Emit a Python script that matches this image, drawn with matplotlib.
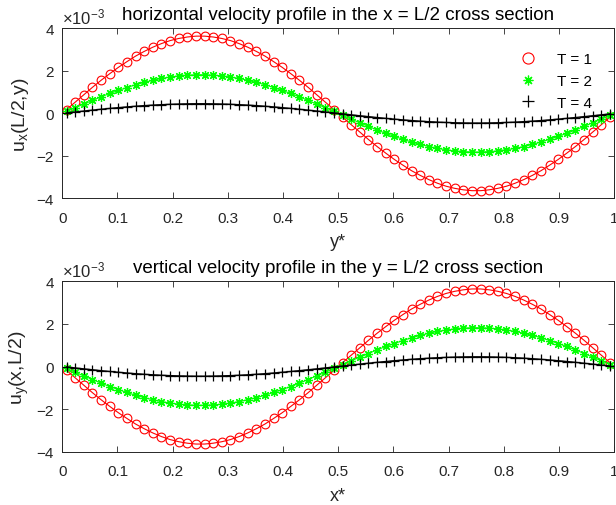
import matplotlib
matplotlib.use("Agg")
import matplotlib.pyplot as plt
from matplotlib.lines import Line2D

plt.rcParams['font.family'] = ['Liberation Sans', 'DejaVu Sans']
plt.rcParams['mathtext.default'] = 'regular'

# grid positions (cell centres)
pos = [0.0078, 0.0234, 0.0391, 0.0547, 0.0703, 0.0859, 0.1016, 0.1172,
       0.1328, 0.1484, 0.1641, 0.1797, 0.1953, 0.2109, 0.2266, 0.2422,
       0.2578, 0.2734, 0.2891, 0.3047, 0.3203, 0.3359, 0.3516, 0.3672,
       0.3828, 0.3984, 0.4141, 0.4297, 0.4453, 0.4609, 0.4766, 0.4922,
       0.5078, 0.5234, 0.5391, 0.5547, 0.5703, 0.5859, 0.6016, 0.6172,
       0.6328, 0.6484, 0.6641, 0.6797, 0.6953, 0.7109, 0.7266, 0.7422,
       0.7578, 0.7734, 0.7891, 0.8047, 0.8203, 0.8359, 0.8516, 0.8672,
       0.8828, 0.8984, 0.9141, 0.9297, 0.9453, 0.9609, 0.9766, 0.9922]

# horizontal velocity u_x(L/2, y)  (units of 1e-3)
ux_T1 = [0.18, 0.53, 0.88, 1.23, 1.56, 1.87, 2.17, 2.44, 2.70, 2.92, 3.12, 3.29, 3.43, 3.53, 3.60, 3.64,
         3.64, 3.60, 3.53, 3.43, 3.29, 3.12, 2.92, 2.70, 2.44, 2.17, 1.87, 1.56, 1.23, 0.88, 0.53, 0.18,
         -0.18, -0.53, -0.88, -1.23, -1.56, -1.87, -2.17, -2.44, -2.70, -2.92, -3.12, -3.29, -3.43, -3.53, -3.60, -3.64,
         -3.64, -3.60, -3.53, -3.43, -3.29, -3.12, -2.92, -2.70, -2.44, -2.17, -1.87, -1.56, -1.23, -0.88, -0.53, -0.18]
ux_T2 = [0.09, 0.27, 0.44, 0.61, 0.78, 0.94, 1.08, 1.22, 1.35, 1.46, 1.56, 1.65, 1.71, 1.77, 1.80, 1.82,
         1.82, 1.80, 1.77, 1.71, 1.65, 1.56, 1.46, 1.35, 1.22, 1.08, 0.94, 0.78, 0.61, 0.44, 0.27, 0.09,
         -0.09, -0.27, -0.44, -0.61, -0.78, -0.94, -1.08, -1.22, -1.35, -1.46, -1.56, -1.65, -1.71, -1.77, -1.80, -1.82,
         -1.82, -1.80, -1.77, -1.71, -1.65, -1.56, -1.46, -1.35, -1.22, -1.08, -0.94, -0.78, -0.61, -0.44, -0.27, -0.09]
ux_T4 = [0.022, 0.067, 0.111, 0.153, 0.195, 0.234, 0.271, 0.306, 0.337, 0.366, 0.390, 0.411, 0.428, 0.441, 0.450, 0.455,
         0.455, 0.450, 0.441, 0.428, 0.411, 0.390, 0.366, 0.337, 0.306, 0.271, 0.234, 0.195, 0.153, 0.111, 0.067, 0.022,
         -0.022, -0.067, -0.111, -0.153, -0.195, -0.234, -0.271, -0.306, -0.337, -0.366, -0.390, -0.411, -0.428, -0.441, -0.450, -0.455,
         -0.455, -0.450, -0.441, -0.428, -0.411, -0.390, -0.366, -0.337, -0.306, -0.271, -0.234, -0.195, -0.153, -0.111, -0.067, -0.022]

# vertical velocity u_y(x, L/2)  (units of 1e-3)
uy_T1 = [-0.18, -0.53, -0.88, -1.23, -1.56, -1.87, -2.17, -2.44, -2.70, -2.92, -3.12, -3.29, -3.43, -3.53, -3.60, -3.64,
         -3.64, -3.60, -3.53, -3.43, -3.29, -3.12, -2.92, -2.70, -2.44, -2.17, -1.87, -1.56, -1.23, -0.88, -0.53, -0.18,
         0.18, 0.53, 0.88, 1.23, 1.56, 1.87, 2.17, 2.44, 2.70, 2.92, 3.12, 3.29, 3.43, 3.53, 3.60, 3.64,
         3.64, 3.60, 3.53, 3.43, 3.29, 3.12, 2.92, 2.70, 2.44, 2.17, 1.87, 1.56, 1.23, 0.88, 0.53, 0.18]
uy_T2 = [-0.09, -0.27, -0.44, -0.61, -0.78, -0.94, -1.08, -1.22, -1.35, -1.46, -1.56, -1.65, -1.71, -1.77, -1.80, -1.82,
         -1.82, -1.80, -1.77, -1.71, -1.65, -1.56, -1.46, -1.35, -1.22, -1.08, -0.94, -0.78, -0.61, -0.44, -0.27, -0.09,
         0.09, 0.27, 0.44, 0.61, 0.78, 0.94, 1.08, 1.22, 1.35, 1.46, 1.56, 1.65, 1.71, 1.77, 1.80, 1.82,
         1.82, 1.80, 1.77, 1.71, 1.65, 1.56, 1.46, 1.35, 1.22, 1.08, 0.94, 0.78, 0.61, 0.44, 0.27, 0.09]
uy_T4 = [-0.022, -0.067, -0.111, -0.153, -0.195, -0.234, -0.271, -0.306, -0.337, -0.366, -0.390, -0.411, -0.428, -0.441, -0.450, -0.455,
         -0.455, -0.450, -0.441, -0.428, -0.411, -0.390, -0.366, -0.337, -0.306, -0.271, -0.234, -0.195, -0.153, -0.111, -0.067, -0.022,
         0.022, 0.067, 0.111, 0.153, 0.195, 0.234, 0.271, 0.306, 0.337, 0.366, 0.390, 0.411, 0.428, 0.441, 0.450, 0.455,
         0.455, 0.450, 0.441, 0.428, 0.411, 0.390, 0.366, 0.337, 0.306, 0.271, 0.234, 0.195, 0.153, 0.111, 0.067, 0.022]

legend_labels = ['T = 1', 'T = 2', 'T = 4']
xticks = [0, 0.1, 0.2, 0.3, 0.4, 0.5, 0.6, 0.7, 0.8, 0.9, 1]
xticklabels = ['0', '0.1', '0.2', '0.3', '0.4', '0.5', '0.6', '0.7', '0.8', '0.9', '1']
yticks = [-4, -2, 0, 2, 4]

AX_COL = '#262626'
ASTERISK = (8, 2, 0)
fig = plt.figure(figsize=(6.16, 5.06), dpi=100)
ax1 = fig.add_axes([0.1011, 0.6061, 0.8961, 0.3356])
ax2 = fig.add_axes([0.1011, 0.1053, 0.8961, 0.3368])

def draw(ax, s1, s2, s4, title, xlabel, ylabel):
    ax.plot(pos, s1, color='red', lw=0.8, marker='o', ms=6.3, mfc='none', mew=0.8)
    ax.plot(pos, s2, color='#00ff00', lw=0.8, marker=ASTERISK, ms=6.5, mew=0.9)
    ax.plot(pos, s4, color='black', lw=1.0, marker='+', ms=7, mew=0.9)
    ax.set_xlim(0, 1)
    ax.set_ylim(-4, 4)
    ax.set_xticks(xticks)
    ax.set_xticklabels(xticklabels)
    ax.set_yticks(yticks)
    ax.tick_params(direction='in', length=4, width=0.6, top=True, right=True,
                   labelsize=11, colors=AX_COL)
    ax.tick_params(axis='x', pad=9)
    ax.tick_params(axis='y', pad=6)
    for sp in ax.spines.values():
        sp.set_color(AX_COL)
        sp.set_linewidth(0.7)
    ax.set_title(title, fontsize=13.5, pad=6.5)
    ax.set_xlabel(xlabel, fontsize=13, color=AX_COL, labelpad=6)
    ax.set_ylabel(ylabel, fontsize=14, color=AX_COL, labelpad=4)
    ax.text(0.0, 1.03, r'$\times10^{-3}$', transform=ax.transAxes, fontsize=12,
            color=AX_COL, ha='left', va='baseline')

draw(ax1, ux_T1, ux_T2, ux_T4,
     'horizontal velocity profile in the x = L/2 cross section', 'y*', r'u$_x$(L/2,y)')
draw(ax2, uy_T1, uy_T2, uy_T4,
     'vertical velocity profile in the y = L/2 cross section', 'x*', r'u$_y$(x,L/2)')

handles = [Line2D([], [], color='red', marker='o', ls='none', ms=8, mfc='none', mew=0.8),
           Line2D([], [], color='#00ff00', marker=ASTERISK, ls='none', ms=7, mew=0.9),
           Line2D([], [], color='black', marker='+', ls='none', ms=8, mew=0.9)]
ax1.legend(handles, legend_labels, loc='upper right', frameon=False, fontsize=11,
           bbox_to_anchor=(0.985, 0.94), handlelength=1.2, handletextpad=1.3,
           labelspacing=0.5, labelcolor='black')

fig.savefig('out.png', dpi=100)
